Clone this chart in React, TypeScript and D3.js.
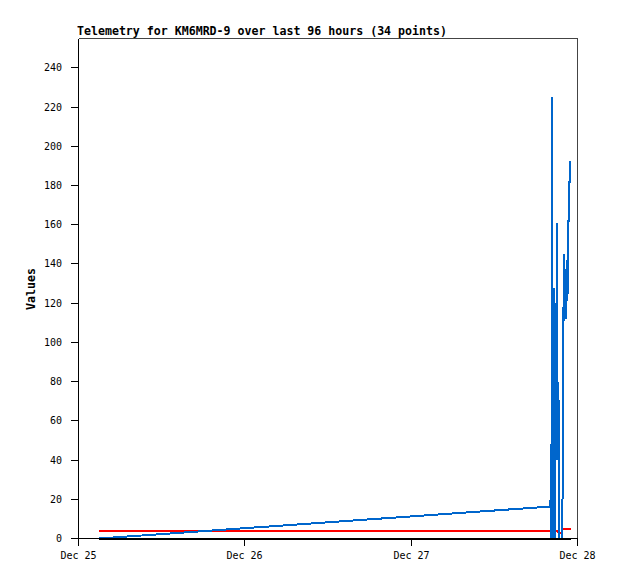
import React from "react";
import * as d3 from "d3";

const W = 618;
const H = 579;

const titleText = "Telemetry for KM6MRD-9 over last 96 hours (34 points)";
const yLabel = "Values";

const times: string[] = [
  "2023-12-25T03:00", "2023-12-27T20:06", "2023-12-27T20:10", "2023-12-27T20:14",
  "2023-12-27T20:21", "2023-12-27T20:27", "2023-12-27T20:35", "2023-12-27T20:42",
  "2023-12-27T20:51", "2023-12-27T20:55", "2023-12-27T21:02", "2023-12-27T21:08",
  "2023-12-27T21:15", "2023-12-27T21:20", "2023-12-27T21:25", "2023-12-27T21:30",
  "2023-12-27T21:35", "2023-12-27T21:40", "2023-12-27T21:44", "2023-12-27T21:49",
  "2023-12-27T21:54", "2023-12-27T22:02", "2023-12-27T22:07", "2023-12-27T22:14",
  "2023-12-27T22:17", "2023-12-27T22:22", "2023-12-27T22:29", "2023-12-27T22:33",
  "2023-12-27T22:40", "2023-12-27T22:45", "2023-12-27T22:47", "2023-12-27T22:52",
  "2023-12-27T22:54", "2023-12-27T23:01",
];

const blueValues: number[] = [
  0, 16.3, 48, 0, 225, 0, 128, 0, 120, 40, 161, 40, 80, 0, 0, 0, 0, 0, 0, 0,
  73, 145, 111, 137, 137, 112, 142, 121, 162, 162, 182, 182, 192, 192,
];

const redValues: number[] = [
  3.6, 3.6, 3.6, 3.6, 3.6, 3.6, 3.6, 3.6, 3.6, 3.6, 3.6, 3.6,
  2.8, 2.8, 2.8, 2.8, 2.8, 2.8, 2.8,
  4.9, 4.9, 4.9, 4.9, 4.9, 4.9, 4.9, 4.9, 4.9, 4.9, 4.9, 4.9, 4.9, 4.9, 4.9,
];

const blackValues: number[] = times.map(() => 0);

const yTicks: number[] = [0, 20, 40, 60, 80, 100, 120, 140, 160, 180, 200, 220, 240];
const xTickDates: string[] = ["2023-12-25T00:00", "2023-12-26T00:00", "2023-12-27T00:00", "2023-12-28T00:00"];
const xTickLabels: string[] = ["Dec 25", "Dec 26", "Dec 27", "Dec 28"];

const series = [
  { name: "red", values: redValues, color: "#ff0000" },
  { name: "blue", values: blueValues, color: "#0066cc" },
  { name: "black", values: blackValues, color: "#000000" },
];

const parse = (s: string) => new Date(s);

export default function App() {
  const left = 78.5, right = 577.5, top = 38.5, bottom = 538.5;
  const x = d3.scaleTime()
    .domain([parse(xTickDates[0]), parse(xTickDates[3])])
    .range([left, right]);
  const y = d3.scaleLinear().domain([0, 255]).range([bottom, top]);

  const line = (vals: number[]) =>
    d3.line<number>()
      .x((_, i) => x(parse(times[i])))
      .y((v) => y(v))(vals) || "";

  const mono = "'DejaVu Sans Mono', 'Liberation Mono', monospace";

  return (
    <svg width={W} height={H} style={{ position: "absolute", left: 0, top: 0, background: "#fff" }}>
      <rect x={0} y={0} width={W} height={H} fill="#fff" />
      {/* frame */}
      <line x1={left} y1={top} x2={right} y2={top} stroke="#444" strokeWidth={1} shapeRendering="crispEdges" />
      <line x1={right} y1={top} x2={right} y2={bottom} stroke="#444" strokeWidth={1} shapeRendering="crispEdges" />
      {/* data */}
      {series.map((s) => (
        <path key={s.name} d={line(s.values)} fill="none" stroke={s.color} strokeWidth={2}
          shapeRendering="crispEdges" strokeLinejoin="miter" />
      ))}
      {/* axes */}
      <line x1={left} y1={top} x2={left} y2={bottom} stroke="#000" strokeWidth={1} shapeRendering="crispEdges" />
      <line x1={left} y1={bottom} x2={right} y2={bottom} stroke="#000" strokeWidth={1} shapeRendering="crispEdges" />
      {yTicks.map((t) => (
        <g key={t}>
          <line x1={left - 8} x2={left} y1={Math.round(y(t) - 0.5) + 0.5} y2={Math.round(y(t) - 0.5) + 0.5}
            stroke="#000" strokeWidth={1} shapeRendering="crispEdges" />
          <text x={62} y={y(t) + 3.5} textAnchor="end" fontFamily={mono} fontSize={10} fill="#000">{t}</text>
        </g>
      ))}
      {xTickDates.map((d, i) => {
        const px = Math.round(x(parse(d)) - 0.5) + 0.5;
        return (
          <g key={d}>
            <line x1={px} x2={px} y1={bottom} y2={bottom + 7} stroke="#000" strokeWidth={1} shapeRendering="crispEdges" />
            <text x={px} y={559} textAnchor="middle" fontFamily={mono} fontSize={10} fill="#000">{xTickLabels[i]}</text>
          </g>
        );
      })}
      <text x={77} y={34.5} fontFamily={mono} fontWeight="bold" fontSize={11.6} fill="#000">{titleText}</text>
      <text x={35} y={289} transform="rotate(-90, 35, 289)" textAnchor="middle" fontFamily={mono}
        fontWeight="bold" fontSize={11.6} fill="#000">{yLabel}</text>
    </svg>
  );
}
